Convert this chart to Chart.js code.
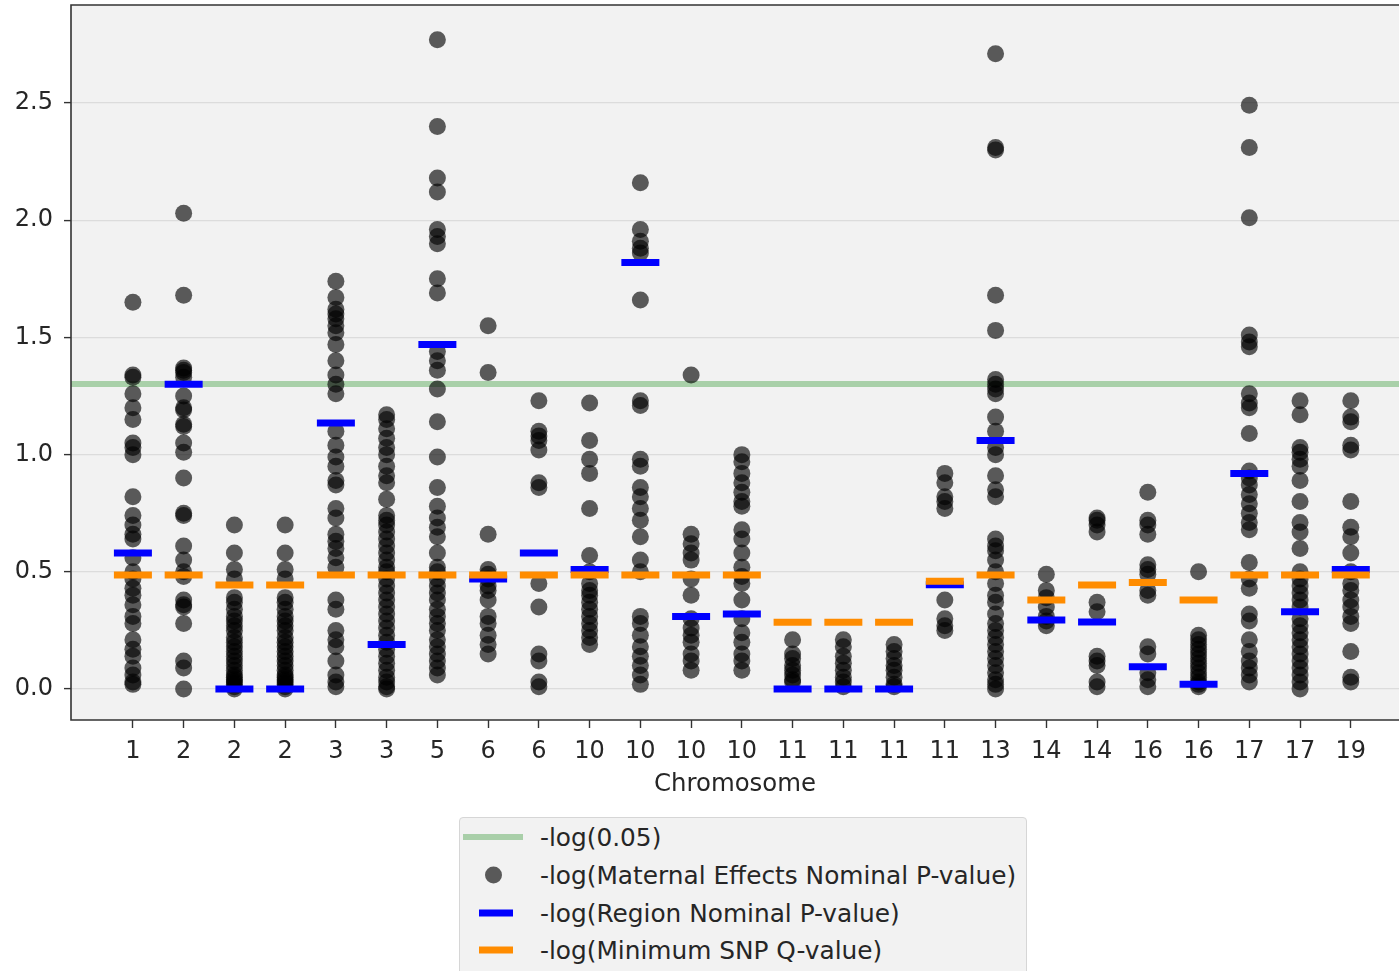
<!DOCTYPE html>
<html>
<head>
<meta charset="utf-8">
<script src="https://cdn.jsdelivr.net/npm/chart.js@4.4.0/dist/chart.umd.min.js"></script>
<style>
  body { margin: 0; background: #fff; font-family: 'DejaVu Sans', sans-serif; }
  #wrap { position: relative; width: 1399px; height: 971px; overflow: hidden; }
  #legend {
    position: absolute; left: 459px; top: 817px; width: 566px; height: 170px;
    background: #f2f2f2; border: 1px solid #d6d6d6; border-radius: 4px;
    color: #262626; font-size: 24.8px;
  }
  .row { position: absolute; left: 0; height: 38px; width: 100%; }
  .row span.txt { position: absolute; left: 80px; top: 50%; transform: translateY(-50%); white-space: nowrap; }
  .h { position: absolute; top: 50%; transform: translateY(-50%); }
</style>
</head>
<body>
<div id="wrap">
  <canvas id="chart" width="1399" height="800"></canvas>
  <div id="legend"></div>
</div>
<script>
// x positions: one per region, labelled by chromosome
const chromosomes = ['1', '2', '2', '2', '3', '3', '5', '6', '6', '10', '10', '10', '10',
  '11', '11', '11', '11', '13', '14', '14', '16', '16', '17', '17', '19']

// -log(Maternal Effects Nominal P-value), one list per region
const maternalLogP = [
  [1.65, 1.34, 1.33, 1.26, 1.20, 1.15, 1.05, 1.03, 1.00, 0.82, 0.74, 0.70, 0.66, 0.64, 0.56, 0.50, 0.47, 0.43, 0.40, 0.36, 0.31, 0.28, 0.21, 0.17, 0.14, 0.09, 0.06, 0.03, 0.02],
  [2.03, 1.68, 1.37, 1.36, 1.35, 1.33, 1.25, 1.20, 1.19, 1.13, 1.12, 1.05, 1.01, 0.90, 0.75, 0.74, 0.61, 0.55, 0.50, 0.48, 0.38, 0.36, 0.35, 0.28, 0.12, 0.09, 0.00],
  [0.70, 0.58, 0.51, 0.47, 0.39, 0.37, 0.34, 0.31, 0.29, 0.27, 0.25, 0.22, 0.20, 0.18, 0.16, 0.14, 0.12, 0.10, 0.08, 0.06, 0.05, 0.04, 0.03, 0.02, 0.01, 0.00],
  [0.70, 0.58, 0.51, 0.47, 0.39, 0.37, 0.34, 0.31, 0.29, 0.27, 0.25, 0.22, 0.20, 0.18, 0.16, 0.14, 0.12, 0.10, 0.08, 0.06, 0.05, 0.04, 0.03, 0.02, 0.01, 0.00],
  [1.74, 1.67, 1.62, 1.60, 1.58, 1.55, 1.52, 1.47, 1.40, 1.34, 1.30, 1.26, 1.10, 1.04, 0.99, 0.95, 0.89, 0.87, 0.77, 0.73, 0.66, 0.63, 0.60, 0.56, 0.52, 0.38, 0.34, 0.25, 0.21, 0.18, 0.12, 0.06, 0.03, 0.01],
  [1.17, 1.15, 1.11, 1.07, 1.03, 1.00, 0.95, 0.91, 0.88, 0.81, 0.74, 0.72, 0.70, 0.67, 0.64, 0.61, 0.58, 0.55, 0.52, 0.50, 0.47, 0.44, 0.41, 0.38, 0.35, 0.32, 0.29, 0.26, 0.23, 0.20, 0.17, 0.14, 0.11, 0.08, 0.05, 0.03, 0.01, 0.00],
  [2.77, 2.40, 2.18, 2.12, 1.96, 1.93, 1.90, 1.75, 1.69, 1.44, 1.40, 1.36, 1.28, 1.14, 0.99, 0.86, 0.78, 0.73, 0.69, 0.65, 0.58, 0.52, 0.50, 0.47, 0.44, 0.41, 0.38, 0.34, 0.31, 0.28, 0.25, 0.21, 0.18, 0.15, 0.12, 0.09, 0.06],
  [1.55, 1.35, 0.66, 0.51, 0.49, 0.47, 0.44, 0.42, 0.38, 0.31, 0.28, 0.23, 0.19, 0.15],
  [1.23, 1.10, 1.08, 1.06, 1.02, 0.88, 0.86, 0.45, 0.35, 0.15, 0.12, 0.03, 0.01],
  [1.22, 1.06, 0.98, 0.92, 0.77, 0.57, 0.50, 0.45, 0.42, 0.40, 0.37, 0.34, 0.31, 0.28, 0.25, 0.22, 0.19],
  [2.16, 1.96, 1.91, 1.88, 1.86, 1.66, 1.23, 1.21, 0.98, 0.95, 0.86, 0.82, 0.77, 0.72, 0.65, 0.55, 0.50, 0.31, 0.28, 0.23, 0.18, 0.14, 0.10, 0.06, 0.02],
  [1.34, 0.66, 0.62, 0.58, 0.55, 0.47, 0.40, 0.30, 0.26, 0.23, 0.20, 0.15, 0.12, 0.08],
  [1.00, 0.97, 0.92, 0.88, 0.84, 0.80, 0.78, 0.68, 0.64, 0.58, 0.52, 0.48, 0.45, 0.38, 0.30, 0.24, 0.20, 0.15, 0.12, 0.08],
  [0.21, 0.15, 0.13, 0.10, 0.08, 0.06, 0.04, 0.03],
  [0.21, 0.18, 0.14, 0.11, 0.08, 0.05, 0.03, 0.01],
  [0.19, 0.16, 0.13, 0.10, 0.08, 0.05, 0.02, 0.01],
  [0.92, 0.88, 0.82, 0.80, 0.77, 0.38, 0.30, 0.27, 0.25],
  [2.71, 2.31, 2.30, 1.68, 1.53, 1.32, 1.30, 1.28, 1.26, 1.16, 1.10, 1.03, 1.00, 0.91, 0.85, 0.82, 0.64, 0.61, 0.59, 0.55, 0.50, 0.45, 0.40, 0.37, 0.32, 0.28, 0.25, 0.22, 0.19, 0.16, 0.13, 0.10, 0.07, 0.04, 0.02, 0.00],
  [0.49, 0.42, 0.39, 0.35, 0.31, 0.29, 0.27],
  [0.73, 0.72, 0.70, 0.67, 0.37, 0.33, 0.14, 0.12, 0.10, 0.03, 0.01],
  [0.84, 0.72, 0.70, 0.66, 0.53, 0.51, 0.49, 0.42, 0.40, 0.18, 0.15, 0.07, 0.04, 0.01],
  [0.50, 0.23, 0.21, 0.19, 0.17, 0.15, 0.13, 0.11, 0.09, 0.07, 0.05, 0.03, 0.02, 0.01],
  [2.49, 2.31, 2.01, 1.51, 1.48, 1.46, 1.26, 1.22, 1.20, 1.09, 0.93, 0.90, 0.87, 0.83, 0.79, 0.75, 0.71, 0.68, 0.54, 0.47, 0.43, 0.32, 0.29, 0.21, 0.16, 0.12, 0.09, 0.06, 0.03],
  [1.23, 1.17, 1.03, 1.01, 0.98, 0.95, 0.89, 0.80, 0.71, 0.67, 0.60, 0.50, 0.47, 0.44, 0.41, 0.38, 0.35, 0.30, 0.27, 0.24, 0.21, 0.18, 0.15, 0.12, 0.09, 0.06, 0.03, 0.00],
  [1.23, 1.16, 1.14, 1.04, 1.02, 0.80, 0.69, 0.65, 0.58, 0.50, 0.45, 0.42, 0.38, 0.35, 0.31, 0.28, 0.16, 0.05, 0.03]
]

// -log(Region Nominal P-value)
const regionLogP = [0.58, 1.30, 0.0, 0.0, 1.135, 0.19, 1.47, 0.47, 0.58, 0.51, 1.82, 0.31, 0.32,
  0.0, 0.0, 0.0, 0.445, 1.06, 0.295, 0.286, 0.095, 0.02, 0.92, 0.33, 0.51]

// -log(Minimum SNP Q-value)
const minSnpLogQ = [0.486, 0.486, 0.444, 0.444, 0.486, 0.486, 0.486, 0.486, 0.486, 0.486, 0.486, 0.486, 0.486,
  0.285, 0.285, 0.285, 0.46, 0.486, 0.38, 0.444, 0.455, 0.38, 0.486, 0.486, 0.486]

const threshold = -Math.log10(0.05)
const yTicks = [0, 0.5, 1.0, 1.5, 2.0, 2.5]

const xMin = -1.22
const xMax = 24.95

const dotColor = 'rgba(0, 0, 0, 0.63)'
const green = 'rgba(0, 128, 0, 0.3)'

const dots = []
maternalLogP.forEach((vals, i) => vals.forEach(v => dots.push({ x: i, y: v })))

const tickFont = { family: 'DejaVu Sans', size: 24 }

// plot background + spines like matplotlib
const frame = {
  id: 'frame',
  beforeDraw(chart) {
    const { ctx, chartArea: a } = chart
    ctx.save()
    ctx.fillStyle = '#f2f2f2'
    ctx.fillRect(a.left, a.top, a.right - a.left, a.bottom - a.top)
    ctx.restore()
  },
  afterDraw(chart) {
    const { ctx, chartArea: a } = chart
    ctx.save()
    ctx.strokeStyle = '#333'
    ctx.lineWidth = 1.6
    ctx.beginPath()
    ctx.moveTo(a.right + 2, a.top)
    ctx.lineTo(a.left, a.top)
    ctx.lineTo(a.left, a.bottom)
    ctx.lineTo(a.right + 2, a.bottom)
    ctx.stroke()
    ctx.restore()
  }
}

new Chart(document.getElementById('chart'), {
  type: 'scatter',
  data: {
    datasets: [
      {
        label: '-log(0.05)',
        type: 'line',
        data: [{ x: xMin, y: threshold }, { x: xMax, y: threshold }],
        borderColor: green,
        borderWidth: 6,
        pointRadius: 0,
        order: 4
      },
      {
        label: '-log(Maternal Effects Nominal P-value)',
        data: dots,
        backgroundColor: dotColor,
        borderColor: dotColor,
        borderWidth: 0,
        pointRadius: 8.5,
        order: 3
      },
      {
        label: '-log(Region Nominal P-value)',
        data: regionLogP.map((v, i) => ({ x: i, y: v })),
        pointStyle: 'line',
        pointRadius: 19,
        borderColor: '#0000ff',
        borderWidth: 7,
        order: 2
      },
      {
        label: '-log(Minimum SNP Q-value)',
        data: minSnpLogQ.map((v, i) => ({ x: i, y: v })),
        pointStyle: 'line',
        pointRadius: 19,
        borderColor: '#ff8c00',
        borderWidth: 7,
        order: 1
      }
    ]
  },
  options: {
    responsive: false,
    animation: false,
    layout: { autoPadding: false, padding: { top: 5, right: 0, left: 0, bottom: 0 } },
    plugins: { legend: { display: false }, tooltip: { enabled: false } },
    scales: {
      x: {
        type: 'linear',
        min: xMin,
        max: xMax,
        afterFit: s => { s.height = 80; s.paddingLeft = 0; s.paddingRight = 0 },
        afterBuildTicks: s => { s.ticks = chromosomes.map((_, i) => ({ value: i })) },
        border: { display: false },
        grid: { drawOnChartArea: false, tickLength: 8, tickColor: '#333', tickWidth: 1.4 },
        ticks: {
          color: '#262626', font: tickFont, padding: 9, maxRotation: 0,
          callback: v => chromosomes[v]
        },
        title: {
          display: true, text: 'Chromosome', color: '#262626',
          font: { family: 'DejaVu Sans', size: 24.4 }, padding: { top: 0, bottom: 1 }
        }
      },
      y: {
        min: -0.132,
        max: 2.918,
        afterFit: s => { s.width = 71; s.paddingTop = 0; s.paddingBottom = 0 },
        afterBuildTicks: s => { s.ticks = yTicks.map(v => ({ value: v })) },
        border: { display: false },
        grid: { color: '#dcdcdc', lineWidth: 1.2, tickLength: 7, tickColor: '#333', tickWidth: 1.4 },
        ticks: {
          color: '#262626', font: tickFont, padding: 11,
          callback: v => v.toFixed(1)
        }
      }
    }
  },
  plugins: [frame]
})

// legend, matplotlib style
const legendRows = [
  { text: '-log(0.05)', handle: `<div class="h" style="left:3px;width:60px;height:6px;background:#a9cfa9"></div>` },
  { text: '-log(Maternal Effects Nominal P-value)', handle: `<div class="h" style="left:25px;width:17px;height:17px;border-radius:50%;background:${dotColor}"></div>` },
  { text: '-log(Region Nominal P-value)', handle: `<div class="h" style="left:19px;width:34px;height:7px;background:#0000ff"></div>` },
  { text: '-log(Minimum SNP Q-value)', handle: `<div class="h" style="left:19px;width:34px;height:7px;background:#ff8c00"></div>` }
]
const legendTops = [0, 38, 76, 113]
document.getElementById('legend').innerHTML = legendRows.map((r, i) =>
  `<div class="row" style="top:${legendTops[i]}px">${r.handle}<span class="txt">${r.text}</span></div>`
).join('')
</script>
</body>
</html>
